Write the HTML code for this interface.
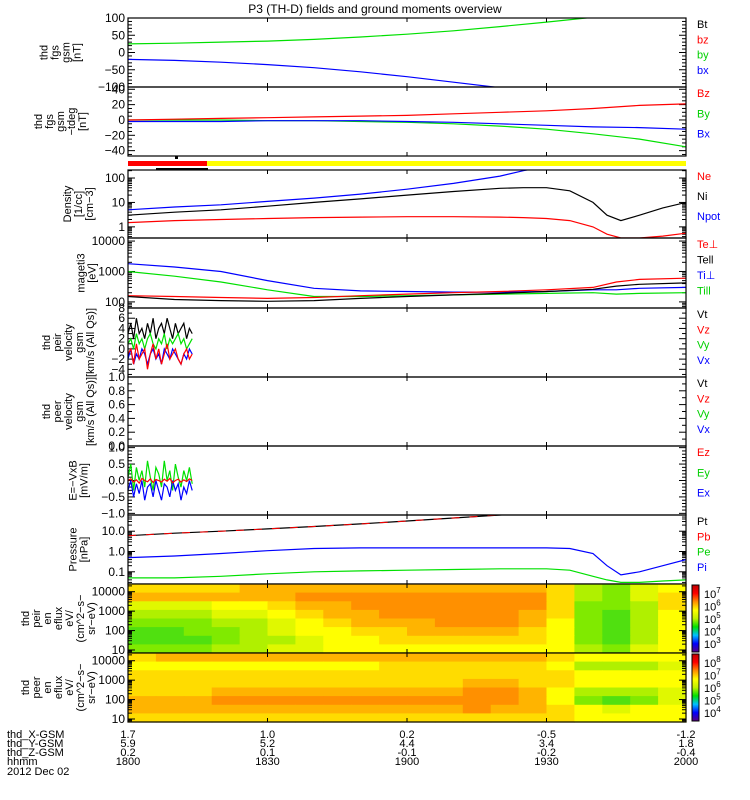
<!DOCTYPE html>
<html><head><meta charset="utf-8">
<style>
html,body{margin:0;padding:0;background:#fff;}
svg{display:block;font-family:"Liberation Sans",sans-serif;}
</style></head>
<body>
<svg id="c" width="750" height="800" viewBox="0 0 750 800" xmlns="http://www.w3.org/2000/svg">
<defs></defs>
</svg>
<script>
// ---- data (time in minutes after 18:00) ----
const tLine = [0,10,20,30,40,50,60,70,80,90,100,110,120];
const fgsBy = [25,27,30,33,38,45,53,63,75,88,102,115,128];
const fgsBx = [-20,-23,-28,-35,-44,-56,-70,-86,-102,-118,-130,-140,-150];
const gsmBz = [0,1,2,3,4,5,6,8,10,12,15,19,21];
const gsmBy = [0,0,0,-1,-1,-2,-3,-5,-8,-12,-18,-25,-35];
const gsmBx = [-2,-2,-2,-1,-1,-1,-2,-3,-5,-7,-9,-10,-12];
const tDens = [0,10,20,30,40,50,60,70,80,85,90,95,100,103,106,110,115,120];
const densNe = [1.5,1.8,2.0,2.2,2.4,2.5,2.6,2.6,2.5,2.4,2.2,1.8,1.0,0.5,0.35,0.35,0.42,0.55];
const densNi = [3,4,5,7,10,14,20,28,38,40,40,30,10,3,1.8,3,6,10];
const densNpot = [5,6.5,8,11,15,22,35,60,120,200,300,400,500,500,500,500,500,500];
const tTemp = [0,10,20,30,40,50,60,70,80,90,100,105,110,120];
const tempTeperp = [160,150,140,130,140,160,180,200,220,250,300,450,550,600];
const tempTepar = [150,120,110,105,110,130,150,170,190,220,260,330,380,420];
const tempTiperp = [1800,1400,1000,500,280,230,220,210,210,220,250,250,280,300];
const tempTipar = [1000,700,450,250,150,150,160,170,180,190,200,180,190,200];
const tNoise = [0,0.6,1.2,1.8,2.4,3,3.6,4.2,4.8,5.4,6,6.6,7.2,7.8,8.4,9,9.6,10.2,10.8,11.4,12,12.6,13.2,13.8];
const velVt = [3,5,2,6,3,4,2,5,3,6,2,4,5,3,6,4,2,5,3,4,5,2,4,3];
const velVz = [-1,0,-3,1,-2,-1,0,-4,-1,1,-2,0,-3,-1,1,-2,-1,0,-2,-3,-1,0,-2,-1];
const velVy = [1,2,0,3,1,2,0,2,3,1,0,2,1,3,0,2,1,2,3,1,2,0,1,2];
const velVx = [-2,0,-3,-1,-2,0,-1,-3,-1,0,-2,-1,-3,0,-1,-2,0,-1,-2,-3,-1,-2,0,-1];
const eEy = [0.1,0.5,-0.3,0.4,0,0.3,-0.2,0.6,0.1,-0.3,0.4,0.2,-0.2,0.6,0,0.3,-0.3,0.5,0.1,-0.2,0.3,0,0.4,-0.1];
const eEx = [-0.3,0,-0.5,-0.1,-0.4,0,-0.6,-0.2,-0.1,-0.5,0,-0.3,-0.6,-0.1,-0.2,-0.5,0,-0.3,-0.1,-0.6,-0.2,-0.4,0,-0.3];
const eEz = [0,0.05,-0.05,0.02,-0.08,0.06,0,-0.04,0.05,-0.06,0.03,0,-0.05,0.04,-0.02,0.06,-0.07,0,0.04,-0.05,0.02,-0.03,0.05,0];
const tPres = [0,10,20,30,40,50,60,70,80,90,95,100,103,106,110,115,120];
const presPt = [6,8,10,13,17,23,32,45,63,90,110,130,150,170,190,220,250];
const presPi = [0.5,0.6,0.8,1.1,1.4,1.5,1.5,1.5,1.5,1.5,1.4,0.8,0.2,0.07,0.1,0.2,0.4];
const presPe = [0.05,0.05,0.06,0.08,0.1,0.11,0.12,0.13,0.14,0.14,0.12,0.06,0.04,0.03,0.03,0.035,0.04];
const specIon = [
[6,6,6,6,7,7,7,7,7,7,7,7,7,7,7,6,3,2,4,5],
[7,7,7,7,7,7,8,8,8,8,8,8,8,8,8,6,3,2,4,6],
[4,4,4,5,5,6,7,7,8,8,8,8,8,8,8,6,2,2,3,6],
[3,3,3,4,4,5,6,7,7,8,8,8,8,8,7,6,2,1,3,5],
[2,2,2,3,3,4,5,6,7,7,7,8,8,8,7,5,2,1,3,5],
[1,1,2,2,3,4,5,5,6,6,7,7,7,7,6,5,2,1,3,5],
[1,1,1,2,3,3,4,5,5,6,6,6,6,6,6,5,2,1,3,5],
[2,2,2,3,3,4,4,5,5,5,5,5,5,5,5,5,3,2,4,5]];
const specEle = [
[6,7,7,7,7,7,7,7,7,7,7,7,7,7,7,6,5,5,5,5],
[5,5,5,5,5,5,5,5,5,6,6,6,6,6,6,5,3,3,3,4],
[6,6,6,6,6,6,6,6,6,6,6,6,6,6,6,6,5,5,5,5],
[6,6,6,6,6,6,6,6,6,6,6,6,7,7,6,6,5,5,5,5],
[6,6,6,7,7,7,7,7,7,7,7,7,8,8,7,5,3,3,3,4],
[7,7,7,8,8,8,8,8,8,8,8,8,8,8,7,5,2,1,2,4],
[7,7,7,7,7,7,7,7,7,7,7,7,8,7,7,6,5,4,5,5],
[6,6,6,6,6,6,6,6,6,6,6,6,6,6,6,6,5,5,5,5]];
const timeTicks = [0,30,60,90,120];
const posX = ["1.7","1.0","0.2","-0.5","-1.2"];
const posY = ["5.9","5.2","4.4","3.4","1.8"];
const posZ = ["0.2","0.1","-0.1","-0.2","-0.4"];
const hhmm = ["1800","1830","1900","1930","2000"];

const NS="http://www.w3.org/2000/svg";
const svg=document.getElementById('c');
const X0=128,X1=686;
const xs=t=>X0+(X1-X0)*t/120;
function el(tag,attrs,parent){const e=document.createElementNS(NS,tag);for(const k in attrs)e.setAttribute(k,attrs[k]);(parent||svg).appendChild(e);return e;}
function txt(s,x,y,attrs){const e=el('text',Object.assign({x:x,y:y,'font-size':12,fill:'#000'},attrs||{}));e.textContent=s;return e;}
const levelColors=['#20d020','#50e010','#80ea00','#b0f000','#e0f800','#ffff00','#ffdc00','#ffb400','#ff9000','#ff6000'];

function mkPanel(name,top,bot,ymin,ymax,log){
  const g=el('g',{});
  
  
  const f=log?(v=>Math.log10(v)):(v=>v);
  const a=f(ymin),b=f(ymax);
  const ys=v=>bot-(bot-top)*(f(v)-a)/(b-a);
  const cid='clip-'+name;
  const cp=el('clipPath',{id:cid},svg.querySelector('defs'));
  el('rect',{x:X0,y:top,width:X1-X0,height:bot-top},cp);
  return {g,ys,top,bot,cid};
}
function frame(p){
  el('rect',{x:X0,y:p.top,width:X1-X0,height:p.bot-p.top,fill:'none',stroke:'#000','stroke-width':1.2},p.g);
  timeTicks.forEach(t=>{
    el('line',{x1:xs(t),x2:xs(t),y1:p.top,y2:p.top+4,stroke:'#000'},p.g);
    el('line',{x1:xs(t),x2:xs(t),y1:p.bot,y2:p.bot-4,stroke:'#000'},p.g);
  });
}
function yTicks(p,vals,labels,minor){
  vals.forEach((v,i)=>{
    const y=p.ys(v);
    el('line',{x1:X0,x2:X0+7,y1:y,y2:y,stroke:'#000'},p.g);
    el('line',{x1:X1,x2:X1-7,y1:y,y2:y,stroke:'#000'},p.g);
    const t=txt(labels[i],X0-3,y+4,{'text-anchor':'end','font-size':12});
    p.g.appendChild(t);
  });
  (minor||[]).forEach(v=>{const y=p.ys(v);
    el('line',{x1:X0,x2:X0+4,y1:y,y2:y,stroke:'#000'},p.g);
    el('line',{x1:X1,x2:X1-4,y1:y,y2:y,stroke:'#000'},p.g);});
}
function line(p,ts,vs,color,name){
  const pts=ts.map((t,i)=>xs(t).toFixed(1)+','+p.ys(vs[i]).toFixed(1)).join(' ');
  const e=el('polyline',{points:pts,fill:'none',stroke:color,'stroke-width':1.2,'clip-path':'url(#'+p.cid+')'},p.g);
  
  
}
function ylabel(p,lines,cx){
  const cy=(p.top+p.bot)/2;
  const t=el('text',{transform:'translate('+cx+','+cy+') rotate(-90)','font-size':11,'text-anchor':'middle',fill:'#000'},p.g);
  lines.forEach((s,i)=>{const ts=el('tspan',{x:0,dy:i===0?(-(lines.length-1)*5.5):11},t);ts.textContent=s;});
  
  
}
function legend(p,items){
  const n=items.length, h=p.bot-p.top;
  items.forEach((it,i)=>{
    const t=txt(it[0],697,p.top+10+i*(h-8)/n,{fill:it[1],'font-size':11});
    
    
    p.g.appendChild(t);
  });
}

// title
const ti=txt('P3 (TH-D) fields and ground moments overview',375,13,{'text-anchor':'middle','font-size':12});



// Panel 1
let p=mkPanel('fgs-gsm-panel',18,87,-100,100,false);
yTicks(p,[100,50,0,-50,-100],['100','50','0','\u221250','\u2212100'],[90,80,70,60,40,30,20,10,-10,-20,-30,-40,-60,-70,-80,-90]);
line(p,tLine,fgsBy,'#00e000','series-by');
line(p,tLine,fgsBx,'#0000ff','series-bx');
frame(p);ylabel(p,['thd','fgs','gsm','[nT]'],64);
legend(p,[['Bt','#000'],['bz','#ff0000'],['by','#00d000'],['bx','#0000ff']]);

// Panel 2
p=mkPanel('fgs-gsm-detrend-panel',87,156,-47,43,false);
yTicks(p,[40,20,0,-20,-40],['40','20','0','\u221220','\u221240'],[35,30,25,15,10,5,-5,-10,-15,-25,-30,-35,-45]);
line(p,tLine,gsmBy,'#00e000','series-gsm-by');
line(p,tLine,gsmBx,'#0000ff','series-gsm-bx');
line(p,tLine,gsmBz,'#ff0000','series-gsm-bz');
frame(p);ylabel(p,['thd','fgs','gsm','\u2212tdeg','[nT]'],64);
legend(p,[['Bz','#ff0000'],['By','#00d000'],['Bx','#0000ff']]);

// mode bar
let b=el('rect',{x:X0,y:161,width:xs(17)-X0,height:5,fill:'#ff0000'});

b=el('rect',{x:xs(17),y:161,width:X1-xs(17),height:5,fill:'#ffff00'});

el('rect',{x:175,y:156,width:3,height:3,fill:'#000'});
el('rect',{x:156,y:168,width:52,height:2,fill:'#000'});

// Density
p=mkPanel('density-panel',170,238,0.35,213,true);
yTicks(p,[100,10,1],['100','10','1'],[200,90,80,70,60,50,40,30,20,9,8,7,6,5,4,3,2,0.9,0.8,0.7,0.6,0.5,0.4]);
line(p,tDens,densNpot,'#0000ff','series-npot');
line(p,tDens,densNi,'#000000','series-ni');
line(p,tDens,densNe,'#ff0000','series-ne');
frame(p);ylabel(p,['Density','[1/cc]','[cm\u22123]'],82);
legend(p,[['Ne','#ff0000'],['Ni','#000'],['Npot','#0000ff']]);

// Temperature
p=mkPanel('temperature-panel',238,308,63,12600,true);
yTicks(p,[10000,1000,100],['10000','1000','100'],[9000,8000,7000,6000,5000,4000,3000,2000,900,800,700,600,500,400,300,200,90,80,70]);
line(p,tTemp,tempTiperp,'#0000ff','series-ti-perp');
line(p,tTemp,tempTipar,'#00e000','series-ti-par');
line(p,tTemp,tempTeperp,'#ff0000','series-te-perp');
line(p,tTemp,tempTepar,'#000000','series-te-par');
frame(p);ylabel(p,['mageti3','[eV]'],90);
legend(p,[['Te\u22a5','#ff0000'],['Tell','#000'],['Ti\u22a5','#0000ff'],['Till','#00d000']]);

// Ion velocity
p=mkPanel('ion-velocity-panel',308,377,-5.5,8,false);
yTicks(p,[8,6,4,2,0,-2,-4],['8','6','4','2','0','\u22122','\u22124'],[7,5,3,1,-1,-3,-5]);
line(p,tNoise,velVt,'#000000','series-vt');
line(p,tNoise,velVx,'#0000ff','series-vx');
line(p,tNoise,velVy,'#00e000','series-vy');
line(p,tNoise,velVz,'#ff0000','series-vz');
frame(p);ylabel(p,['thd','peir','velocity','gsm','[km/s (All Qs)]'],72);
legend(p,[['Vt','#000'],['Vz','#ff0000'],['Vy','#00d000'],['Vx','#0000ff']]);

// Electron velocity (empty)
p=mkPanel('electron-velocity-panel',377,446,0,1,false);
yTicks(p,[1,0.8,0.6,0.4,0.2,0],['1.0','0.8','0.6','0.4','0.2','0.0'],[0.9,0.7,0.5,0.3,0.1]);
frame(p);ylabel(p,['thd','peer','velocity','gsm','[km/s (All Qs)]'],72);
legend(p,[['Vt','#000'],['Vz','#ff0000'],['Vy','#00d000'],['Vx','#0000ff']]);

// E field
p=mkPanel('efield-panel',446,515,-1.05,1.05,false);
yTicks(p,[1,0.5,0,-0.5,-1],['1.0','0.5','0.0','\u22120.5','\u22121.0'],[0.9,0.8,0.7,0.6,0.4,0.3,0.2,0.1,-0.1,-0.2,-0.3,-0.4,-0.6,-0.7,-0.8,-0.9]);
line(p,tNoise,eEy,'#00e000','series-ey');
line(p,tNoise,eEx,'#0000ff','series-ex');
line(p,tNoise,eEz,'#ff0000','series-ez');
frame(p);ylabel(p,['E=\u2212VxB','[mV/m]'],82);
legend(p,[['Ez','#ff0000'],['Ey','#00d000'],['Ex','#0000ff']]);

// Pressure
p=mkPanel('pressure-panel',515,584,0.025,63,true);
yTicks(p,[10,1,0.1],['10.0','1.0','0.1'],[50,40,30,20,9,8,7,6,5,4,3,2,0.9,0.8,0.7,0.6,0.5,0.4,0.3,0.2,0.09,0.08,0.07,0.06,0.05,0.04,0.03]);
line(p,tPres,presPt,'#000000','series-pt');
el('polyline',{points:tPres.map((t,i)=>xs(t).toFixed(1)+','+p.ys(presPt[i]).toFixed(1)).join(' '),fill:'none',stroke:'#ff0000','stroke-width':1,'stroke-dasharray':'8 10','clip-path':'url(#'+p.cid+')'},p.g);
line(p,tPres,presPi,'#0000ff','series-pi');
line(p,tPres,presPe,'#00e000','series-pe');
frame(p);ylabel(p,['Pressure','[nPa]'],82);
legend(p,[['Pt','#000'],['Pb','#ff0000'],['Pe','#00d000'],['Pi','#0000ff']]);

// Spectrograms
function spec(name,top,bot,mat,lbl){
  const q=mkPanel(name,top,bot,7,25000,true);
  const nr=mat.length,nc=mat[0].length;
  const cw=(X1-X0)/nc,rh=(bot-top)/nr;
  mat.forEach((row,r)=>row.forEach((v,c)=>{
    const e=el('rect',{x:(X0+c*cw).toFixed(1),y:(top+r*rh).toFixed(1),width:(cw+0.6).toFixed(1),height:(rh+0.6).toFixed(1),fill:levelColors[v]},q.g);
    
    
  }));
  yTicks(q,[10000,1000,100,10],['10000','1000','100','10'],[20000,9000,8000,7000,6000,5000,4000,3000,2000,900,800,700,600,500,400,300,200,90,80,70,60,50,40,30,20,9,8]);
  frame(q);ylabel(q,lbl,62);
  return q;
}
spec('ion-spectrogram',584,653,specIon,['thd','peir','en','eflux','eV/','(cm^2\u2212s\u2212','sr\u2212eV)']);
spec('electron-spectrogram',653,722,specEle,['thd','peer','en','eflux','eV/','(cm^2\u2212s\u2212','sr\u2212eV)']);

// colorbars
const cbStops=['#5a0080','#0000ff','#00c0ff','#00e000','#c0f000','#ffff00','#ff9000','#ff0000','#c00000'];
const lg=el('linearGradient',{id:'cbg',x1:0,y1:1,x2:0,y2:0},svg.querySelector('defs'));
cbStops.forEach((c,i)=>el('stop',{offset:(i/(cbStops.length-1)),'stop-color':c},lg));
[[584,653,['7','6','5','4','3'],'ion-colorbar'],[653,722,['8','7','6','5','4'],'electron-colorbar']].forEach(cb=>{
  const r=el('rect',{x:692,y:cb[0]+1,width:7,height:cb[1]-cb[0]-2,fill:'url(#cbg)',stroke:'#000','stroke-width':1});
  
  cb[2].forEach((e,i)=>{
    const y=cb[0]+14+i*12.5;
    const t=txt('10',704,y,{'font-size':11});
    const s=el('tspan',{dy:-5,'font-size':8},t);s.textContent=e;
  });
});

// bottom annotation
const rowsY=[738,747,756,765];
[['thd_X-GSM',posX],['thd_Y-GSM',posY],['thd_Z-GSM',posZ],['hhmm',hhmm]].forEach((r,ri)=>{
  const t=txt(r[0],7,rowsY[ri],{'font-size':11});
  
  r[1].forEach((v,i)=>{const tt=txt(v,xs(timeTicks[i]),rowsY[ri],{'text-anchor':'middle','font-size':11});
    });
});
const dt=txt('2012 Dec 02',7,775,{'font-size':11});

</script>
</body></html>
